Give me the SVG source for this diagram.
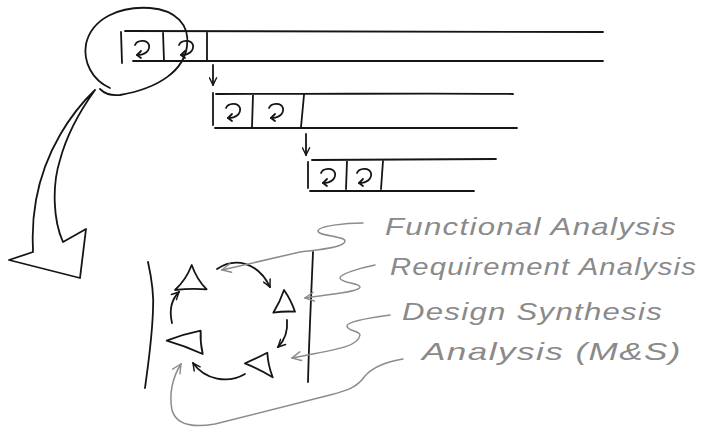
<svg xmlns="http://www.w3.org/2000/svg" width="702" height="429" viewBox="0 0 702 429">
<defs>
<style>
.k{fill:none;stroke:#151515;stroke-width:1.8;stroke-linecap:round;stroke-linejoin:round}
.g{fill:none;stroke:#8c8c8c;stroke-width:1.5;stroke-linecap:round;stroke-linejoin:round}
.t{font-family:"Liberation Sans","DejaVu Sans",sans-serif;font-style:italic;font-size:24px;fill:#8a8a8a;letter-spacing:1px}
</style>
<marker id="ak" viewBox="0 0 10 10" refX="9" refY="5" markerWidth="9" markerHeight="9" markerUnits="userSpaceOnUse" orient="auto">
<path d="M1,1 L9,5 L1,9" fill="none" stroke="#151515" stroke-width="1.6" stroke-linecap="round"/>
</marker>
<marker id="ag" viewBox="0 0 10 10" refX="9" refY="5" markerWidth="11" markerHeight="11" markerUnits="userSpaceOnUse" orient="auto">
<path d="M1,1 L9,5 L1,9" fill="none" stroke="#8c8c8c" stroke-width="1.3" stroke-linecap="round"/>
</marker>
<g id="curl">
<path class="k" d="M-7,-3 C-5,-8 5,-9 7,-3 C8,3 3,7 -5,7" stroke-width="1.7"/>
<path class="k" d="M-1,3 L-5,7 L-1,10" stroke-width="1.7"/>
</g>
</defs>
<rect width="702" height="429" fill="#ffffff"/>

<g id="bar1">
<path class="k" d="M125,31 L603,32 M133,61 L603,61 M121,32 L122,63 M163,32 L164,61 M207,32 L207,61"/>
<use href="#curl" x="142" y="48"/>
<use href="#curl" x="186" y="48"/>
</g>
<g id="bar2">
<path class="k" d="M216,94 C350,94 450,93 513,94 M215,128 L517,128 M213,93 L213,125 M253,95 L252,127 M304,95 L301,127"/>
<use href="#curl" x="233" y="111"/>
<use href="#curl" x="276" y="111"/>
</g>
<g id="bar3">
<path class="k" d="M312,160 L496,159 M310,191 L474,191 M308,162 L308,188 M347,161 L346,189 M383,161 L381,189"/>
<use href="#curl" x="328" y="176"/>
<use href="#curl" x="364" y="176"/>
</g>
<g id="zoom-circle">
<path class="k" d="M110,88 C92,80 83,62 86,44 C92,18 120,6 150,8 C176,10 190,25 187,46 C184,70 160,88 120,95 C111,96 104,93 100,89"/>
</g>
<g id="big-arrow">
<path class="k" d="M95,90 C72,112 45,150 36,200 C31,228 33,240 33,252 L9,260 L80,278 L86,229 L63,242 C53,220 52,185 60,160 C68,130 82,108 95,90"/>
</g>
<g id="bar-arrows">
<path class="k" d="M213,65 L213,85" marker-end="url(#ak)" stroke-width="1.4"/>
<path class="k" d="M306,134 L306,155" marker-end="url(#ak)" stroke-width="1.4"/>
</g>
<g id="cycle">
<path class="k" d="M217,269 C235,257 258,262 270,287" marker-end="url(#ak)"/>
<path class="k" d="M287,320 C288,332 285,340 278,347" marker-end="url(#ak)"/>
<path class="k" d="M245,374 C228,384 205,380 193,363" marker-end="url(#ak)"/>
<path class="k" d="M172,323 C169,310 171,300 179,292" marker-end="url(#ak)"/>
<path class="k" d="M191.7,265 Q186,280 175,290 Q191,288 206.7,289.3 Q197,280 191.7,265 Z"/>
<path class="k" d="M284,290 Q280,302 273.3,312.7 Q284,311 295,311.7 Q291,300 284,290 Z"/>
<path class="k" d="M166.7,340.7 Q184,334 200.7,330.7 Q200,342 202.7,354 Q185,346 166.7,340.7 Z"/>
<path class="k" d="M245,363.3 Q257,358 267.3,352.7 Q268,365 272.7,377.3 Q259,369 245,363.3 Z"/>
<path class="k" d="M148,262 C152,280 154,295 153,310 C152,340 148,365 145,388"/>
<path class="k" d="M313,252 C311,300 309,340 308,382"/>
</g>
<g id="labels">
<text class="t" x="385" y="235" textLength="292" lengthAdjust="spacingAndGlyphs">Functional Analysis</text>
<text class="t" x="390" y="275" textLength="307" lengthAdjust="spacingAndGlyphs">Requirement Analysis</text>
<text class="t" x="402" y="320" textLength="261" lengthAdjust="spacingAndGlyphs">Design Synthesis</text>
<text class="t" x="422" y="360" textLength="260" lengthAdjust="spacingAndGlyphs">Analysis (M&amp;S)</text>
</g>
<g id="connectors">
<path class="g" d="M363,223 C345,223 318,226 318,231 C318,236 345,236 345,241 C345,248 315,250 300,252 L222,270" marker-end="url(#ag)"/>
<path class="g" d="M375,265 C360,268 340,274 340,278 C340,283 360,283 360,287 C360,292 330,294 305,298" marker-end="url(#ag)"/>
<path class="g" d="M390,315 C375,317 347,321 347,326 C347,331 360,331 360,335 C358,348 330,350 292,358" marker-end="url(#ag)"/>
<path class="g" d="M403,359 C385,362 372,368 365,376 C358,386 350,390 330,395 L215,424 C192,428 176,425 172,410 C169,395 172,378 181,364" marker-end="url(#ag)"/>
</g>
</svg>
